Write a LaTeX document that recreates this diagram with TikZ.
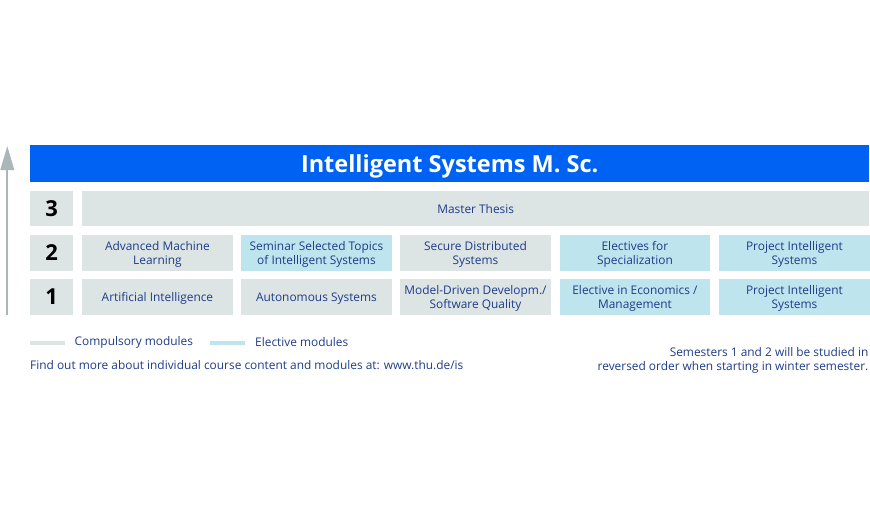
\documentclass[tikz,border=0pt]{standalone}
\usepackage{fontspec}
\setmainfont{Open Sans}
\usetikzlibrary{arrows.meta}
\definecolor{banner}{HTML}{0062F2}
\definecolor{comp}{HTML}{DCE4E4}
\definecolor{elec}{HTML}{BEE4EE}
\definecolor{txt}{HTML}{1F3C8A}
\definecolor{arrowc}{HTML}{A9B7B7}
\tikzset{
  cell/.style={minimum height=35.5pt, inner sep=0pt, align=center, text=txt,
    font=\fontsize{11.9}{14}\selectfont, anchor=north west, text depth=0pt},
  compcell/.style={cell, fill=comp},
  eleccell/.style={cell, fill=elec},
  numcell/.style={cell, fill=comp, minimum width=43pt, text=black,
    font=\fontsize{22}{22}\selectfont\bfseries},
  legtext/.style={text=txt, font=\fontsize{11.9}{14}\selectfont, inner sep=0pt},
}
\begin{document}
\begin{tikzpicture}[x=1pt,y=-1pt]
\useasboundingbox (0,0) rectangle (870,517);
% banner
\node[fill=banner, minimum width=839pt, minimum height=36.5pt, inner sep=0pt, anchor=north west,
  text=white, text depth=0pt, font=\fontsize{23.5}{24}\selectfont\bfseries] (title) at (30,145) {Intelligent Systems M. Sc.};
% semester numbers
\node[numcell] (n3) at (30,190.7) {3};
\node[numcell] (n2) at (30,235) {2};
\node[numcell] (n1) at (30,279) {1};
% row 3
\node[compcell, minimum width=787pt] (thesis) at (82,190.7) {Master Thesis};
% row 2
\node[compcell, minimum width=150.5pt] (r2c1) at (82,235) {Advanced Machine\\Learning};
\node[eleccell, minimum width=150.5pt] (r2c2) at (241,235) {Seminar Selected Topics\\of Intelligent Systems};
\node[compcell, minimum width=150.5pt] (r2c3) at (400,235) {Secure Distributed\\Systems};
\node[eleccell, minimum width=150.5pt] (r2c4) at (559.5,235) {Electives for\\Specialization};
\node[eleccell, minimum width=150.5pt] (r2c5) at (719,235) {Project Intelligent\\Systems};
% row 1
\node[compcell, minimum width=150.5pt] (r1c1) at (82,279) {Artificial Intelligence};
\node[compcell, minimum width=150.5pt] (r1c2) at (241,279) {Autonomous Systems};
\node[compcell, minimum width=150.5pt] (r1c3) at (400,279) {Model-Driven Developm./\\Software Quality};
\node[eleccell, minimum width=150.5pt] (r1c4) at (559.5,279) {Elective in Economics /\\Management};
\node[eleccell, minimum width=150.5pt] (r1c5) at (719,279) {Project Intelligent\\Systems};
% arrow
\coordinate (abot) at (7.3,314.5);
\coordinate (atop) at (7.3,146);
\draw[arrowc, line width=2pt, -{Triangle[length=24pt,width=13.5pt]}] (abot) -- (atop);
% legend
\node[fill=comp, minimum width=35pt, minimum height=4pt, inner sep=0pt, anchor=west] (lgc) at (30,343) {};
\node[legtext, anchor=west] (lgct) at (74.5,342) {Compulsory modules};
\node[fill=elec, minimum width=35pt, minimum height=4pt, inner sep=0pt, anchor=west] (lge) at (210,343) {};
\node[legtext, anchor=west] (lget) at (255,342) {Elective modules};
\node[legtext, anchor=west] (more) at (30,365.5) {Find out more about individual course content and modules at: www.thu.de/is};
\node[legtext, anchor=north east, align=right] (note) at (868.5,347) {Semesters 1 and 2 will be studied in\\reversed order when starting in winter semester.};
\end{tikzpicture}
\end{document}
